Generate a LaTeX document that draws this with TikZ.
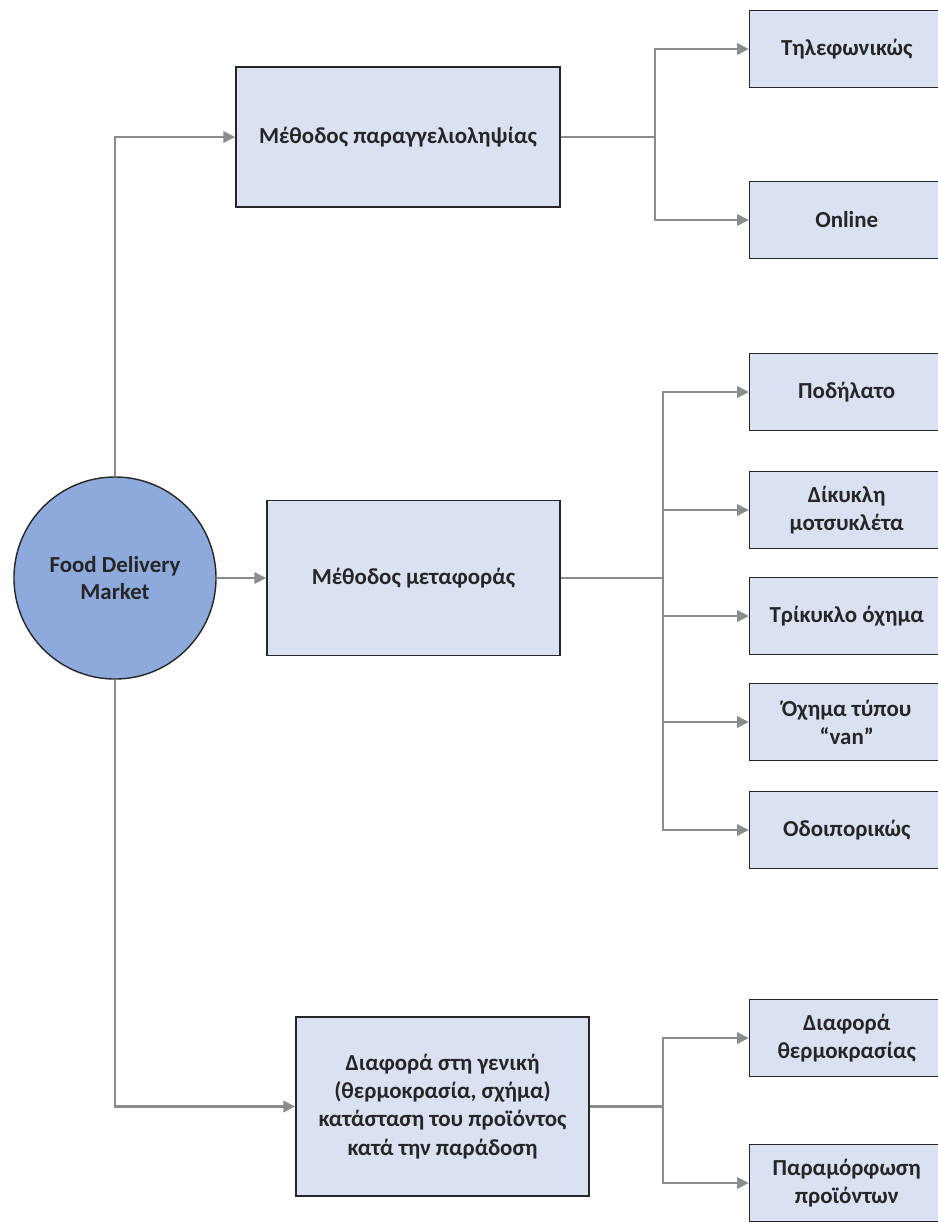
\documentclass[tikz,border=0pt]{standalone}
\usepackage{fontspec}
\setmainfont{Carlito}
\usetikzlibrary{arrows.meta,positioning}
\definecolor{fdline}{HTML}{8C8C8C}
\definecolor{fdbox}{HTML}{DAE1F3}
\definecolor{fdroot}{HTML}{8EA9DB}
\definecolor{fdtext}{HTML}{262626}

\tikzset{
  box/.style={draw=black!85, line width=1pt, fill=fdbox, align=center,
    font=\bfseries\fontsize{16.3}{20}\selectfont, text=fdtext},
  leaf/.style={box, anchor=west, minimum width=4.85cm, minimum height=1.93cm},
  link/.style={draw=fdline, line width=2.1pt, -{Triangle[length=0.3cm,width=0.28cm]}},
}

\begin{document}
\begin{tikzpicture}[x=0.025cm, y=-0.025cm]
  \useasboundingbox (0,0) rectangle (938,1226);
  \clip (0,0) rectangle (938,1226);

  \node[circle, draw=black!85, line width=1pt, fill=fdroot, minimum size=5.05cm,
    align=center, font=\bfseries\fontsize{16.3}{19}\selectfont, text=fdtext] (root) at (115,578) {Food Delivery\\Market};

  \node[box, minimum width=8.1cm, minimum height=3.5cm] (order) at (398,137) {Μέθοδος παραγγελιοληψίας};
  \node[box, minimum width=7.325cm, minimum height=3.875cm] (transport) at (413.5,578) {Μέθοδος μεταφοράς};
  \node[box, minimum width=7.325cm, minimum height=4.475cm] (cond) at (442.5,1106.5)
    {Διαφορά στη γενική\\(θερμοκρασία, σχήμα)\\κατάσταση του προϊόντος\\κατά την παράδοση};

  % leaves
  \node[leaf] (phone) at (749,49) {Τηλεφωνικώς};
  \node[leaf] (online) at (749,220) {Online};
  \node[leaf] (bike) at (749,392) {Ποδήλατο};
  \node[leaf] (moto) at (749,510) {Δίκυκλη\\μοτσυκλέτα};
  \node[leaf] (trike) at (749,616) {Τρίκυκλο όχημα};
  \node[leaf] (van) at (749,722) {Όχημα τύπου\\“van”};
  \node[leaf] (walk) at (749,830) {Οδοιπορικώς};
  \node[leaf] (temp) at (749,1038) {Διαφορά\\θερμοκρασίας};
  \node[leaf] (deform) at (749,1183) {Παραμόρφωση\\προϊόντων};

  \coordinate (j1) at (655,0);
  \coordinate (j2) at (663,0);

  \draw[link] (root.north) |- (order.west);
  \draw[link] (root.east) -- (transport.west);
  \draw[link] (root.south) |- (cond.west);

  \foreach \n in {phone,online}
    \draw[link] (order.east) -- (order.east -| j1) |- (\n.west);
  \foreach \n in {bike,moto,trike,van,walk}
    \draw[link] (transport.east) -- (transport.east -| j2) |- (\n.west);
  \foreach \n in {temp,deform}
    \draw[link] (cond.east) -- (cond.east -| j2) |- (\n.west);
\end{tikzpicture}
\end{document}
